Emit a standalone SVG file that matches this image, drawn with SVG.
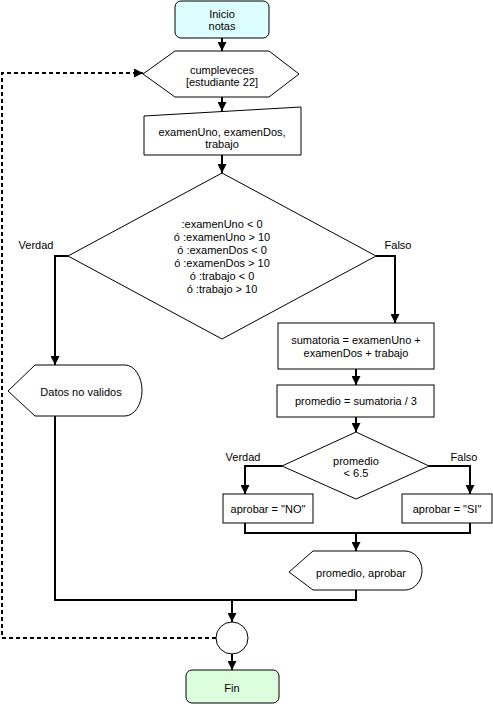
<svg xmlns="http://www.w3.org/2000/svg" width="493" height="704" viewBox="0 0 493 704">
<style>
text{font-family:"Liberation Sans",Arial,sans-serif;font-size:11px;fill:#000;text-anchor:middle}
.shape{fill:#fff;stroke:#000;stroke-width:1}
.line{fill:none;stroke:#000;stroke-width:2}
.dash{fill:none;stroke:#000;stroke-width:2;stroke-dasharray:4 3}
</style>
<defs>
<marker id="ah" markerUnits="userSpaceOnUse" markerWidth="9" markerHeight="9" viewBox="0 0 10 10" refX="10" refY="5" orient="auto">
<path d="M0,0 L10,5 L0,10 Z" fill="#000"/>
</marker>
</defs>
<rect width="493" height="704" fill="#fff"/>
<g id="connectors">
<path class="line" d="M222,38 V51" marker-end="url(#ah)"/>
<path class="line" d="M222,97 V111" marker-end="url(#ah)"/>
<path class="line" d="M222,155 V173" marker-end="url(#ah)"/>
<path class="line" d="M68,256 H55 V365" marker-end="url(#ah)"/>
<path class="line" d="M376,256 H395 V323" marker-end="url(#ah)"/>
<path class="line" d="M356,369 V385" marker-end="url(#ah)"/>
<path class="line" d="M356,417 V432" marker-end="url(#ah)"/>
<path class="line" d="M282,466 H245 V494" marker-end="url(#ah)"/>
<path class="line" d="M429,466 H470 V494" marker-end="url(#ah)"/>
<path class="line" d="M245,523 V533 H470 V523"/>
<path class="line" d="M356,533 V551" marker-end="url(#ah)"/>
<path class="line" d="M55,416 V600 H356 V590"/>
<path class="line" d="M232,600 V622" marker-end="url(#ah)"/>
<path class="line" d="M232,654 V670" marker-end="url(#ah)"/>
<path class="dash" d="M216,638 H2 V73 H143" marker-end="url(#ah)"/>
<text x="36" y="249">Verdad</text>
<text x="398" y="249">Falso</text>
<text x="243" y="461">Verdad</text>
<text x="464" y="461">Falso</text>
</g>
<g id="inicio">
<rect x="175" y="1" width="94" height="37" rx="6" fill="#ddfefe" stroke="#000"/>
<text x="222" y="17.5">Inicio</text>
<text x="222" y="30">notas</text>
</g>
<g id="loop">
<polygon class="shape" points="143,74 175,51 269,51 299,74 269,97 175,97"/>
<text x="222" y="74">cumpleveces</text>
<text x="222" y="86">[estudiante 22]</text>
</g>
<g id="input">
<polygon class="shape" points="144,116 301,107 301,155 144,155"/>
<text x="222" y="136">examenUno, examenDos,</text>
<text x="222" y="148">trabajo</text>
</g>
<g id="decision1">
<polygon class="shape" points="222,173 376,256 222,339 68,256"/>
<text x="222" y="228">:examenUno &lt; 0</text>
<text x="222" y="241">ó :examenUno &gt; 10</text>
<text x="222" y="254">ó :examenDos &lt; 0</text>
<text x="222" y="267">ó :examenDos &gt; 10</text>
<text x="222" y="280">ó :trabajo &lt; 0</text>
<text x="222" y="293">ó :trabajo &gt; 10</text>
</g>
<g id="datosNoValidos">
<path class="shape" d="M8,391 L35,365 L125,365 A17,25.5 0 0 1 125,416 L35,416 Z"/>
<text x="81" y="396">Datos no validos</text>
</g>
<g id="sumatoria">
<rect class="shape" x="278" y="323" width="156" height="46"/>
<text x="356" y="344">sumatoria = examenUno +</text>
<text x="356" y="357">examenDos + trabajo</text>
</g>
<g id="promedio">
<rect class="shape" x="277" y="385" width="157" height="32"/>
<text x="356" y="405">promedio = sumatoria / 3</text>
</g>
<g id="decision2">
<polygon class="shape" points="356,432 429,466 356,499 282,466"/>
<text x="356" y="465">promedio</text>
<text x="356" y="477">&lt; 6.5</text>
</g>
<g id="aprobarNo">
<rect class="shape" x="223" y="494" width="90" height="29"/>
<text x="268" y="513">aprobar = "NO"</text>
</g>
<g id="aprobarSi">
<rect class="shape" x="402" y="494" width="90" height="29"/>
<text x="447" y="513">aprobar = "SI"</text>
</g>
<g id="salida">
<path class="shape" d="M289,572 L313,551 L405,551 A17,19.5 0 0 1 405,590 L313,590 Z"/>
<text x="361" y="577">promedio, aprobar</text>
</g>
<g id="conector">
<circle class="shape" cx="232" cy="638" r="16"/>
</g>
<g id="fin">
<rect x="186" y="670" width="93" height="33" rx="6" fill="#ddfedd" stroke="#000"/>
<text x="232" y="692">Fin</text>
</g>
</svg>
